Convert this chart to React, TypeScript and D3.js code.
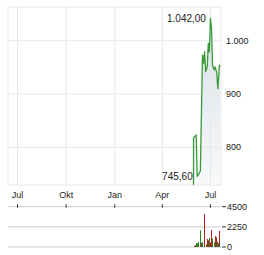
import React from "react";
import * as d3 from "d3";

const W = 264;
const H = 255;

// price series
const priceDates = [
  "2025-05-30", "2025-06-01", "2025-06-04", "2025-06-06", "2025-06-09", "2025-06-12",
  "2025-06-16", "2025-06-18", "2025-06-20", "2025-06-22", "2025-06-25", "2025-06-27",
  "2025-06-29", "2025-07-01", "2025-07-03", "2025-07-05", "2025-07-08", "2025-07-10",
  "2025-07-13", "2025-07-15", "2025-07-18", "2025-07-19",
];
const priceValues = [
  818, 820, 823, 745.6, 750, 756,
  973, 958, 979, 942, 951, 995,
  979, 1042, 1024, 954, 945, 951,
  939, 910, 954, 951,
];

// volume series
const volDates = [
  "2025-05-30", "2025-06-01", "2025-06-03", "2025-06-04", "2025-06-06", "2025-06-08",
  "2025-06-11", "2025-06-13", "2025-06-15", "2025-06-19", "2025-06-22", "2025-06-24",
  "2025-06-26", "2025-06-28", "2025-07-01", "2025-07-03", "2025-07-04", "2025-07-08",
  "2025-07-10", "2025-07-12", "2025-07-14", "2025-07-16", "2025-07-18",
];
const volValues = [
  120, 200, 280, 450, 400, 550,
  1850, 450, 550, 3700, 300, 900,
  750, 1000, 500, 1900, 950, 500,
  1200, 1100, 600, 450, 1800,
];
const volUp = [
  false, false, true, true, true, true,
  true, false, true, false, true, false,
  false, true, false, false, true, true,
  false, false, true, true, false,
];

const xDomain = ["2024-06-13", "2025-07-21"];
const yDomain = [729.3, 1063.2];
const yTicks = [800, 900, 1000];
const volDomain = [0, 4500];
const volTicks = [0, 2250, 4500];
const xTickDates = ["2024-07-01", "2024-10-01", "2025-01-01", "2025-04-01", "2025-07-01"];
const xTickLabels = ["Jul", "Okt", "Jan", "Apr", "Jul"];

const de = d3.formatLocale({ decimal: ",", thousands: ".", grouping: [3], currency: ["", " €"] });
const fmtAxis = de.format(",d");
const fmtVal = de.format(",.2f");
const parse = d3.timeParse("%Y-%m-%d");

const plot = { left: 8, right: 221, top: 7, bottom: 185 };
const vol = { top: 206.7, bottom: 247 };

export default function App() {
  const x = d3.scaleTime().domain(xDomain.map((d) => parse(d)!)).range([plot.left, plot.right]);
  const y = d3.scaleLinear().domain(yDomain).range([plot.bottom, plot.top]);
  const yv = d3.scaleLinear().domain(volDomain).range([vol.bottom, vol.top]);

  const data = priceDates.map((d, i) => ({ date: parse(d)!, value: priceValues[i] }));
  const strokeData = [{ date: data[0].date, value: yDomain[0] }, ...data];

  const line = d3.line<{ date: Date; value: number }>().x((d) => x(d.date)).y((d) => y(d.value));
  const area = d3
    .area<{ date: Date; value: number }>()
    .x((d) => x(d.date))
    .y0(plot.bottom)
    .y1((d) => y(d.value));

  const maxI = d3.maxIndex(data, (d) => d.value);
  const minI = d3.minIndex(data, (d) => d.value);
  const font = "'Liberation Sans', Arial, sans-serif";
  const txt = "#222";

  return (
    <svg width={W} height={H} style={{ position: "absolute", left: 0, top: 0 }} fontFamily={font}>
      <defs>
        <linearGradient id="areaGrad" gradientUnits="userSpaceOnUse" x1="0" y1={plot.top} x2="0" y2={plot.bottom}>
          <stop offset="0" stopColor="#d6dfe7" />
          <stop offset="1" stopColor="#f7f9fa" />
        </linearGradient>
      </defs>
      <rect x={0} y={0} width={W} height={H} fill="#fff" />
      {/* area */}
      <path d={area(data)!} fill="url(#areaGrad)" />
      {/* grid */}
      {yTicks.map((t) => (
        <line key={"gy" + t} x1={plot.left} x2={plot.right} y1={y(t)} y2={y(t)} stroke="#e8e8e8" />
      ))}
      {xTickDates.map((t) => (
        <line key={"gx" + t} x1={x(parse(t)!)} x2={x(parse(t)!)} y1={plot.top} y2={plot.bottom} stroke="#e8e8e8" />
      ))}
      <rect x={plot.left} y={plot.top} width={plot.right - plot.left} height={plot.bottom - plot.top} fill="none" stroke="#e8e8e8" />
      {/* line */}
      <path d={line(strokeData)!} fill="none" stroke="#3a9a3a" strokeWidth={1.3} strokeLinejoin="round" />
      {/* y labels */}
      {yTicks.map((t) => (
        <text key={"yl" + t} x={226} y={y(t)} dy="0.35em" fontSize={9} fill={txt}>
          {fmtAxis(t)}
        </text>
      ))}
      {/* annotations */}
      <text x={x(data[maxI].date) - 4.5} y={y(data[maxI].value)} dy="0.35em" textAnchor="end" fontSize={10} fill={txt}>
        {fmtVal(data[maxI].value)}
      </text>
      <text x={x(data[minI].date) - 4.5} y={y(data[minI].value)} dy="0.35em" textAnchor="end" fontSize={10} fill={txt}>
        {fmtVal(data[minI].value)}
      </text>
      {/* x labels */}
      {xTickDates.map((t, i) => (
        <text key={"xl" + t} x={x(parse(t)!)} y={198} textAnchor="middle" fontSize={9} fill={txt}>
          {xTickLabels[i]}
        </text>
      ))}
      {/* volume grid */}
      {volTicks.map((t) => (
        <g key={"vg" + t}>
          <line x1={plot.left} x2={plot.right} y1={yv(t)} y2={yv(t)} stroke="#cccccc" />
          <line x1={222} x2={226} y1={yv(t)} y2={yv(t)} stroke="#333" />
          <text x={227} y={yv(t)} dy="0.35em" fontSize={9} fill={txt}>
            {t}
          </text>
        </g>
      ))}
      {xTickDates.map((t) => (
        <line key={"vt" + t} x1={x(parse(t)!)} x2={x(parse(t)!)} y1={vol.top - 2.5} y2={vol.top + 1} stroke="#333" />
      ))}
      {/* volume bars */}
      {volDates.map((d, i) => {
        const xx = Math.round(x(parse(d)!));
        return (
          <rect
            key={"vb" + d}
            x={xx}
            y={yv(volValues[i])}
            width={1}
            height={yv(0) - yv(volValues[i])}
            fill={volUp[i] ? "#1f8a1f" : "#b52020"}
          />
        );
      })}
    </svg>
  );
}
